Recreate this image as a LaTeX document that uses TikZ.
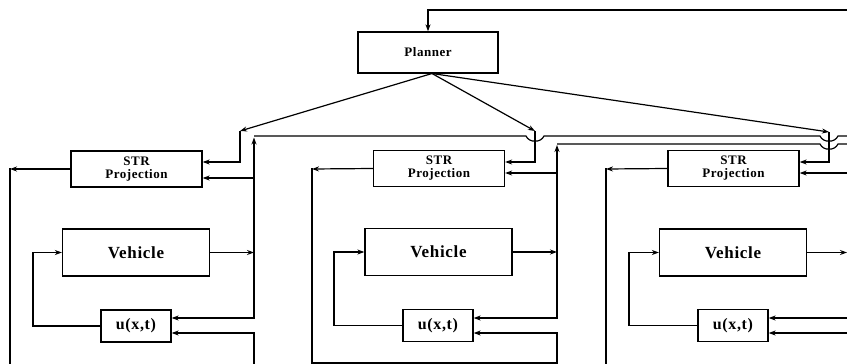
\documentclass[tikz,border=0pt]{standalone}
\usepackage{fontspec}
\setmainfont{Liberation Serif}
\newfontfamily\lblfont[LetterSpace=4]{Liberation Serif}
\usetikzlibrary{arrows.meta}
\begin{document}
\begin{tikzpicture}[x=1pt,y=-1pt,
  box/.style={draw,line width=1.3pt,inner sep=0pt,anchor=center,align=center},
  planbox/.style={box,minimum width=140pt,minimum height=41pt,font=\lblfont\bfseries\fontsize{13}{14}\selectfont},
  strbox/.style={box,minimum width=131pt,minimum height=36pt,font=\lblfont\bfseries\fontsize{13}{13}\selectfont},
  vehbox/.style={box,minimum width=147pt,minimum height=47pt,font=\lblfont\bfseries\fontsize{17}{18}\selectfont},
  ubox/.style={box,minimum width=70pt,minimum height=32pt,font=\lblfont\bfseries\fontsize{16}{17}\selectfont},
  ln/.style={line width=1.2pt},
  arr/.style={ln,-{Stealth[length=7pt,width=5pt]}}]
\useasboundingbox[fill=white] (0,0) rectangle (847,364);

% boxes
\node[planbox] (planner) at (428,52.5) {Planner};
\node[strbox] (str1) at (136.5,169) {STR\\Projection};
\node[strbox] (str2) at (439,168.5) {STR\\Projection};
\node[strbox] (str3) at (733.5,168.5) {STR\\Projection};
\node[vehbox] (veh1) at (136,252.5) {Vehicle};
\node[vehbox] (veh2) at (438.5,252) {Vehicle};
\node[vehbox] (veh3) at (733,252.5) {Vehicle};
\node[ubox] (u1) at (136,326) {u(x,t)};
\node[ubox] (u2) at (438,325.5) {u(x,t)};
\node[ubox] (u3) at (733,325.5) {u(x,t)};

% coordinates
\coordinate (p0) at (432,73.5);
\coordinate (a1) at (240,131);
\coordinate (a2) at (535,131);
\coordinate (a3) at (829,132);
\coordinate (top) at (847,10);

% planner feedback from the right
\draw[arr] (top) -| (planner.north);

% planner outputs
\draw[arr] (p0) -- (a1);
\draw[arr] (p0) -- (a2);
\draw[arr] (p0) -- (a3);
\draw[arr] (a1) |- ([yshift=7pt]str1.east);
\draw[arr] (a2) |- ([yshift=6.5pt]str2.east);
\draw[arr] (a3) |- ([yshift=6.5pt]str3.east);

% long feedback lines with hops
\draw[ln] (254,136) -- (526,136) .. controls (529,143) and (541,143) .. (544,136)
  -- (820,136) .. controls (823,143) and (835,143) .. (838,136) -- (847,136);
\draw[ln] (557,144) -- (820,144) .. controls (823,151) and (835,151) .. (838,144) -- (847,144);

% ---------- unit 1 ----------
\coordinate (j1) at (254,252.5);
\draw[arr] (veh1.east) -- (j1);
\draw[arr] (j1) -- (254,137.5);
\draw[arr] (j1) |- ([yshift=8pt]u1.east);
\draw[arr] (254,178) -- ([yshift=-9pt]str1.east);
\draw[arr] (254,364) |- ([yshift=-7pt]u1.east);
\draw[arr] (str1.west) -- (10,169);
\draw[ln] (10,168.4) -- (10,364);
\draw[arr] (u1.west) -- (33,326) |- (veh1.west);

% ---------- unit 2 ----------
\coordinate (j2) at (557,252);
\draw[arr] (veh2.east) -- (j2);
\draw[arr] (j2) -- (557,145);
\draw[arr] (j2) |- ([yshift=7.5pt]u2.east);
\draw[arr] (557,173) -- ([yshift=-4.5pt]str2.east);
\draw[arr] (str2.west) -- (312,169);
\draw[arr] (312,168.4) -- (312,363) -- (557,363) |- ([yshift=-7.5pt]u2.east);
\draw[arr] (u2.west) -- (334,325.5) |- (veh2.west);

% ---------- unit 3 ----------
\draw[arr] (847,173) -- ([yshift=-4.5pt]str3.east);
\draw[arr] (str3.west) -- (606,169);
\draw[ln] (606,168.4) -- (606,364);
\draw[arr] (veh3.east) -- (847,252.5);
\draw[arr] (847,318) -- ([yshift=7.5pt]u3.east);
\draw[arr] (847,333) -- ([yshift=-7.5pt]u3.east);
\draw[arr] (u3.west) -- (629,325.5) |- (veh3.west);
\end{tikzpicture}
\end{document}
